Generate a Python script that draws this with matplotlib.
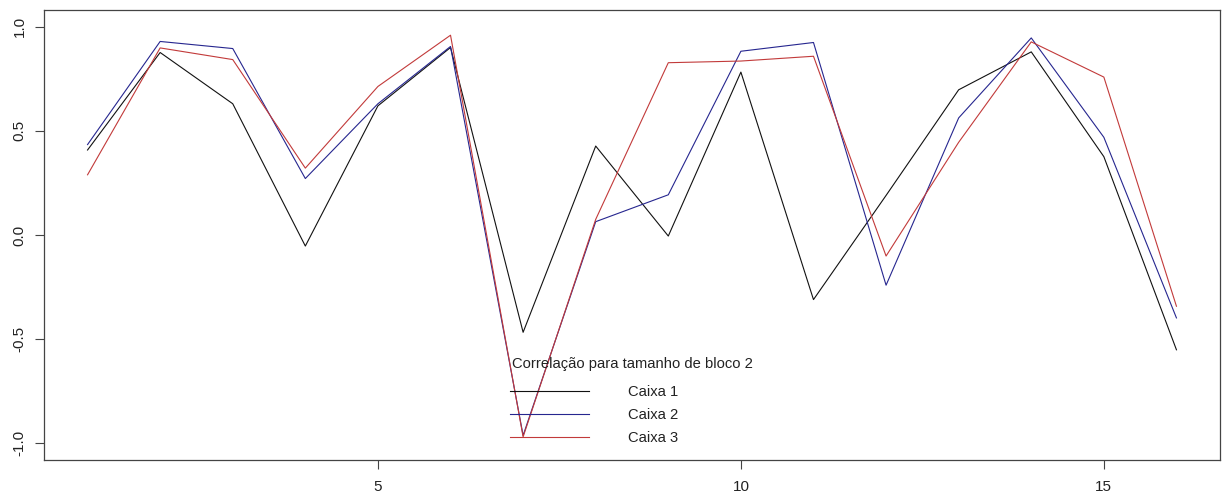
import numpy as np
import matplotlib.pyplot as plt

plt.rcParams['font.family'] = ['Liberation Sans', 'DejaVu Sans']

# correlacao por bloco, tamanho de bloco 2
blocos = np.arange(1, 17)
caixa1 = [0.408, 0.876, 0.630, -0.053, 0.620, 0.900, -0.467, 0.427,
          -0.005, 0.782, -0.310, 0.190, 0.697, 0.879, 0.376, -0.551]
caixa2 = [0.434, 0.929, 0.895, 0.271, 0.630, 0.905, -0.962, 0.064,
          0.193, 0.882, 0.924, -0.241, 0.562, 0.946, 0.469, -0.398]
caixa3 = [0.289, 0.898, 0.842, 0.321, 0.713, 0.959, -0.969, 0.075,
          0.827, 0.835, 0.858, -0.101, 0.445, 0.927, 0.758, -0.342]

nomes = ['Caixa 1', 'Caixa 2', 'Caixa 3']
cores = ['#111111', '#26268f', '#c23a3a']
titulo = 'Correlação para tamanho de bloco 2'

fig = plt.figure(figsize=(12.25, 4.97), dpi=100)
ax = fig.add_axes([44 / 1225, 37 / 497, 1176 / 1225, 450 / 497])

for serie, nome, cor in zip([caixa1, caixa2, caixa3], nomes, cores):
    ax.plot(blocos, serie, color=cor, lw=0.8, label=nome)

ax.set_xlim(0.4, 16.6)
ax.set_ylim(-1.08, 1.08)
ax.set_xticks([5, 10, 15])
ax.set_yticks([-1.0, -0.5, 0.0, 0.5, 1.0])
ax.set_yticklabels(['-1.0', '-0.5', '0.0', '0.5', '1.0'], rotation=90, va='center')
ax.tick_params(length=6.5, width=0.8, color='#444444', labelsize=11,
               labelcolor='#222222')
ax.tick_params(axis='x', pad=8)
ax.tick_params(axis='y', pad=6)
for s in ax.spines.values():
    s.set_color('#444444')
    s.set_linewidth(0.9)

# legenda sem moldura, titulo alinhado a esquerda
ax.text(468 / 1176, 1 - 354 / 450, titulo, transform=ax.transAxes,
        fontsize=10.6, color='#222222', ha='left', va='center')
leg = ax.legend(loc='upper left', bbox_to_anchor=(466 / 1176, 1 - 375 / 450),
                frameon=False, fontsize=10.6, handlelength=5.37,
                handletextpad=2.65, labelspacing=0.62, borderpad=0,
                borderaxespad=0)
for t in leg.get_texts():
    t.set_color('#222222')

fig.savefig('out.png', dpi=100)
